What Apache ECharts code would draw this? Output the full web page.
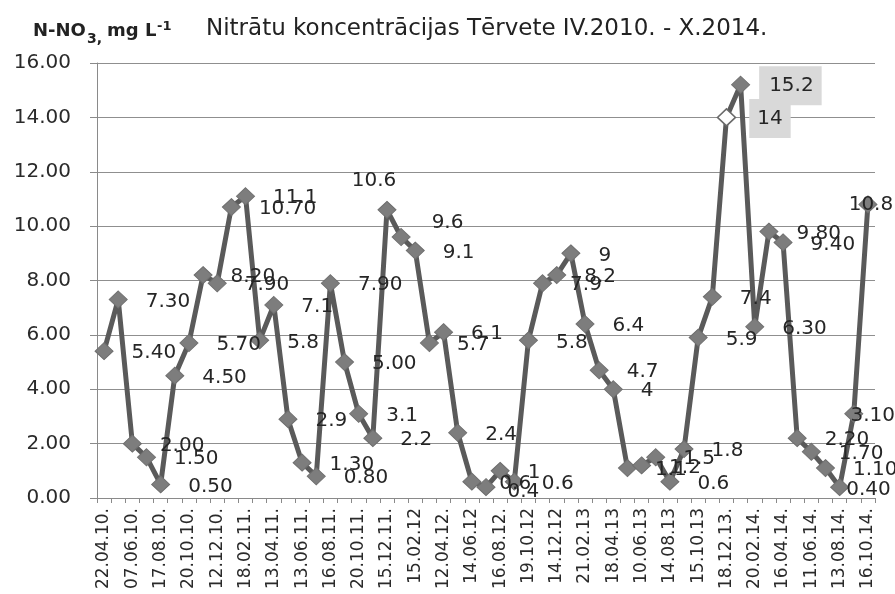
<!DOCTYPE html>
<html><head><meta charset="utf-8">
<script src="https://cdn.jsdelivr.net/npm/echarts@6/dist/echarts.min.js"></script>
<style>html,body{margin:0;padding:0;background:#fff}#c{width:895px;height:594px}</style>
</head><body><div id="c"></div>
<script>
const tickLabels = ['22.04.10.','07.06.10.','17.08.10.','20.10.10.','12.12.10.','18.02.11.','13.04.11.','13.06.11.','16.08.11.','20.10.11.','15.12.11.','15.02.12','12.04.12.','14.06.12','16.08.12.','19.10.12','14.12.12','21.02.13','18.04.13','10.06.13','14.08.13','15.10.13','18.12.13.','20.02.14.','16.04.14.','11.06.14.','13.08.14.','16.10.14.'];
const values = [5.4,7.3,2.0,1.5,0.5,4.5,5.7,8.2,7.9,10.7,11.1,5.8,7.1,2.9,1.3,0.8,7.9,5.0,3.1,2.2,10.6,9.6,9.1,5.7,6.1,2.4,0.6,0.4,1,0.6,5.8,7.9,8.2,9,6.4,4.7,4,1.1,1.2,1.5,0.6,1.8,5.9,7.4,14,15.2,6.3,9.8,9.4,2.2,1.7,1.1,0.4,3.1,10.8];
const valueLabels = ['5.40','7.30','2.00','1.50','0.50','4.50','5.70','8.20','7.90','10.70','11.1','5.8','7.1','2.9','1.30','0.80','7.90','5.00','3.1','2.2','10.6','9.6','9.1','5.7','6.1','2.4','0.6','0.4','1','0.6','5.8','7.9','8.2','9','6.4','4.7','4','1.1','1.2','1.5','0.6','1.8','5.9','7.4','14','15.2','6.30','9.80','9.40','2.20','1.70','1.10','0.40','3.10','10.8'];
const yTicks = {min: 0, max: 16, step: 2};
const titleText = 'Nitrātu koncentrācijas Tērvete IV.2010. - X.2014.';

const FONT = 'DejaVu Sans';
const categories = values.map((v, i) => 'c' + i);

// per-point label style tweaks (placement only)
const labelTweaks = {
  20: {position: 'top', distance: 10, offset: [-13, 0]},
  21: {offset: [3, -14]},
  27: {offset: [-6, 5]},
  44: {distance: 13, backgroundColor: '#d9d9d9', padding: [10, 8, 9, 8], offset: [0, 1]},
  45: {distance: 9, backgroundColor: '#d9d9d9', padding: [10, 8, 9, 10], offset: [0, 1]},
  52: {offset: [-21, 3]},
  53: {position: 'inside', offset: [19, 2]},
  54: {position: 'inside', offset: [3, 0]}
};
const hollow = {44: true};

const seriesData = values.map((v, i) => {
  const item = {value: v, label: Object.assign({formatter: valueLabels[i]}, labelTweaks[i] || {})};
  if (hollow[i]) item.itemStyle = {color: '#ffffff', borderColor: '#6a6a6a', borderWidth: 1.5};
  return item;
});

const chart = echarts.init(document.getElementById('c'), null, {renderer: 'canvas'});
chart.setOption({
  animation: false,
  backgroundColor: '#ffffff',
  grid: {left: 97, right: 20, top: 63, bottom: 96, containLabel: false},
  graphic: [
    {type: 'text', left: 33, top: 22, style: {text: 'N-NO', font: 'bold 18px "DejaVu Sans"', fill: '#222'}},
    {type: 'text', left: 87, top: 32, style: {text: '3,', font: 'bold 14px "DejaVu Sans"', fill: '#222'}},
    {type: 'text', left: 107, top: 22, style: {text: 'mg L', font: 'bold 18px "DejaVu Sans"', fill: '#222'}},
    {type: 'text', left: 157, top: 20, style: {text: '-1', font: 'bold 13px "DejaVu Sans"', fill: '#222'}},
    {type: 'text', left: 206, top: 18, style: {text: titleText, font: '23px "DejaVu Sans"', fill: '#222'}}
  ],
  xAxis: {
    type: 'category',
    data: categories,
    boundaryGap: true,
    axisLine: {show: true, lineStyle: {color: '#8a8a8a', width: 1}},
    axisTick: {show: true, interval: 0, alignWithLabel: false, length: 5, lineStyle: {color: '#8a8a8a'}},
    axisLabel: {
      interval: 1, rotate: 90, margin: 10,
      fontFamily: FONT, fontSize: 17, color: '#2a2a2a',
      formatter: (val, idx) => (idx % 2 === 0 ? tickLabels[idx / 2] : '')
    },
    splitLine: {show: false}
  },
  yAxis: {
    type: 'value',
    min: yTicks.min, max: yTicks.max, interval: yTicks.step,
    axisLine: {show: true, lineStyle: {color: '#8a8a8a', width: 1}},
    axisTick: {show: true, length: 7, lineStyle: {color: '#8a8a8a'}},
    axisLabel: {margin: 26, fontFamily: FONT, fontSize: 20, color: '#2a2a2a', formatter: v => v.toFixed(2)},
    splitLine: {show: true, lineStyle: {color: '#8f8f8f', width: 1}}
  },
  series: [{
    type: 'line',
    data: seriesData,
    showAllSymbol: true,
    symbol: 'diamond',
    symbolSize: [18, 17],
    lineStyle: {color: '#5a5a5a', width: 5},
    itemStyle: {color: '#7d7d7d', borderColor: '#6f6f6f', borderWidth: 1},
    label: {
      show: true, position: 'right', distance: 18, offset: [0, 2],
      fontFamily: FONT, fontSize: 20, color: '#262626'
    },
    emphasis: {disabled: true}
  }]
});
</script>
</body></html>
